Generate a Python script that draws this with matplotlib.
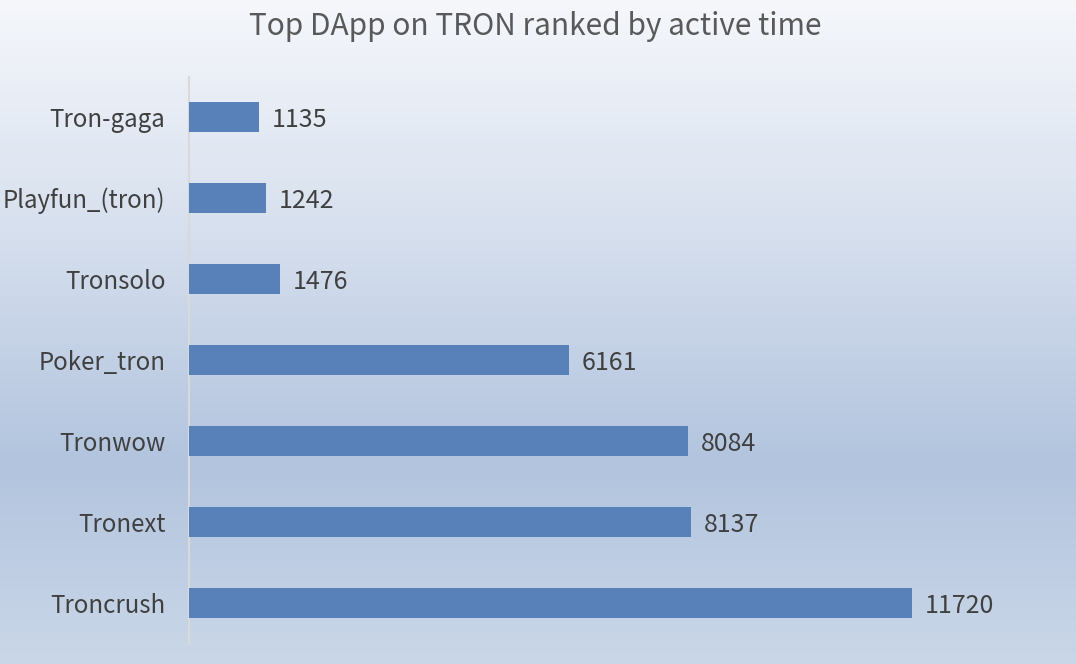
import numpy as np
import matplotlib
matplotlib.use("Agg")
import matplotlib.pyplot as plt
from matplotlib.colors import LinearSegmentedColormap

plt.rcParams['font.family'] = ['Noto Sans CJK SC', 'DejaVu Sans']

categories = ["Troncrush", "Tronext", "Tronwow", "Poker_tron", "Tronsolo", "Playfun_(tron)", "Tron-gaga"]
values = [11720, 8137, 8084, 6161, 1476, 1242, 1135]
title = "Top DApp on TRON ranked by active time"

W, H = 1076, 664
fig = plt.figure(figsize=(W / 100, H / 100), dpi=100)

# background gradient
bg = fig.add_axes([0, 0, 1, 1], zorder=-10)
cmap = LinearSegmentedColormap.from_list(
    "bg", [(0.0, "#f5f7fb"), (0.30, "#dbe3f0"), (0.70, "#b2c4de"), (1.0, "#cad7e8")])
grad = np.linspace(0, 1, 256).reshape(-1, 1)
bg.imshow(grad, aspect="auto", cmap=cmap, extent=[0, 1, 0, 1], origin="upper")
bg.set_axis_off()

left, right = 189 / W, 1045 / W
bottom, top = (H - 643.5) / H, (H - 76.5) / H
ax = fig.add_axes([left, bottom, right - left, top - bottom])
ax.patch.set_alpha(0)

y = np.arange(len(categories))
bars = ax.barh(y, values, height=0.365, color="#5880b9", zorder=3)
scale = (912 - 189) / 11720
ax.set_xlim(0, (1045 - 189) / scale)
ax.set_ylim(-0.5, len(categories) - 0.5)
ax.set_yticks(y)
ax.set_yticklabels(categories, fontsize=17.3, color="#404040")
ax.tick_params(axis="y", length=0, pad=17)
for t in ax.get_yticklabels():
    t.set_verticalalignment("center_baseline")
ax.set_xticks([])
for s in ["top", "right", "bottom"]:
    ax.spines[s].set_visible(False)
ax.spines["left"].set_color("#d9d9d9")
ax.spines["left"].set_linewidth(1.5)

for b, v in zip(bars, values):
    ax.annotate(str(v), (b.get_width(), b.get_y() + b.get_height() / 2),
                xytext=(13, 0), textcoords="offset pixels",
                ha="left", va="center_baseline", fontsize=18, color="#404040")

fig.text(535 / W, 1 - 23 / H, title, ha="center", va="center_baseline", fontsize=21.5, color="#595959")

fig.savefig("out.png", dpi=100)
